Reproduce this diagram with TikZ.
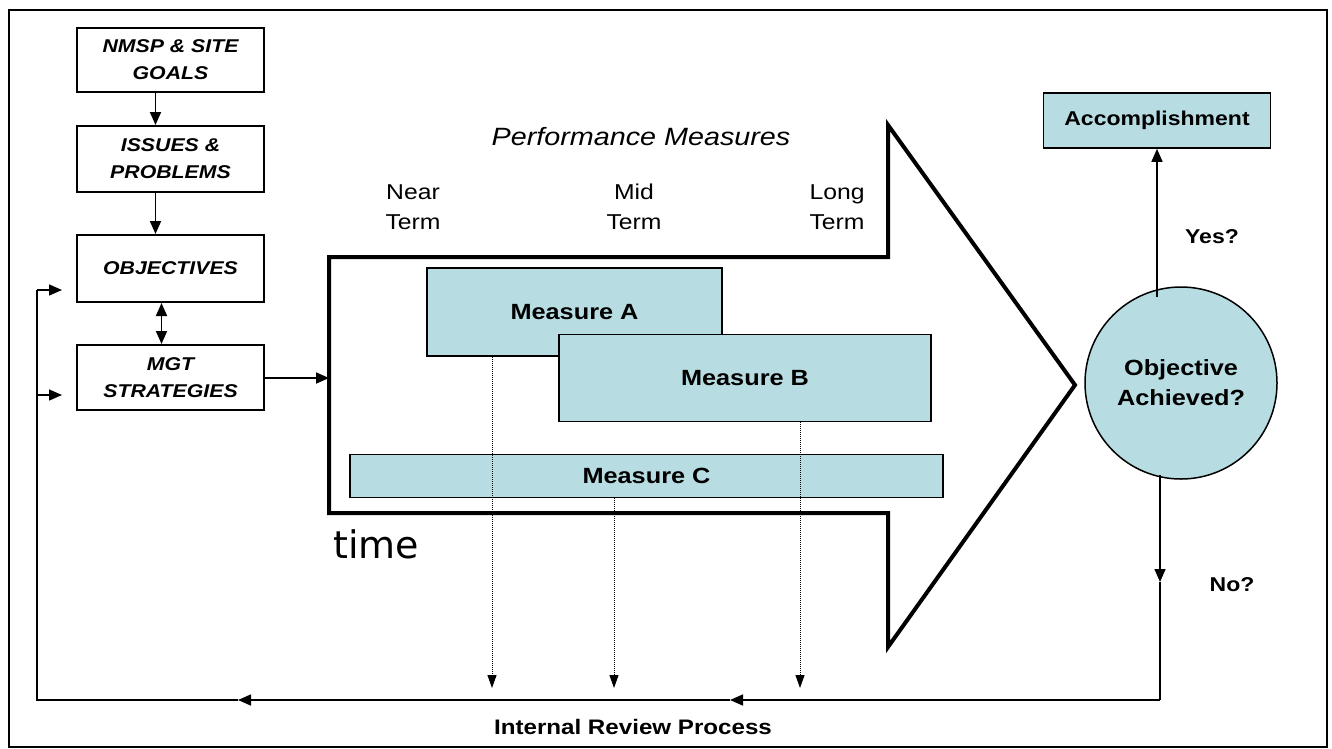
\documentclass[tikz,border=0pt]{standalone}
\usepackage{fontspec}
\setmainfont{Liberation Sans}[FakeStretch=1.15]
\newfontfamily\timefont{DejaVu Sans}
\usetikzlibrary{arrows.meta}
\definecolor{mblue}{RGB}{183,221,227}
\tikzset{
  lbox/.style={draw, line width=2pt, minimum width=187pt, inner sep=0pt, align=center,
    font=\fontsize{18.5pt}{27pt}\selectfont\bfseries\itshape},
  mbox/.style={draw, line width=1.8pt, fill=mblue, inner sep=0pt,
    font=\fontsize{22pt}{26pt}\selectfont\bfseries},
  arr/.style={line width=1.8pt, -{Triangle[length=13pt,width=11pt]}},
  darr/.style={line width=1.8pt, {Triangle[length=13pt,width=11pt]}-{Triangle[length=13pt,width=11pt]}},
  dotarr/.style={line width=1pt, densely dotted, -{Triangle[length=13pt,width=9pt]}},
  term/.style={align=center, font=\fontsize{21.5pt}{30pt}\selectfont},
  lbl/.style={font=\fontsize{20pt}{24pt}\selectfont\bfseries}
}
\begin{document}
\begin{tikzpicture}[x=1pt,y=-1pt]
\useasboundingbox (0,0) rectangle (1332,748);
% frame
\draw[line width=2.6pt] (9,10) rectangle (1327,747);

% left column
\node[lbox, minimum height=64pt] (goals) at (170.5,60) {NMSP \& SITE\\GOALS};
\node[lbox, minimum height=66pt] (issues) at (170.5,159) {ISSUES \&\\PROBLEMS};
\node[lbox, minimum height=67pt] (obj) at (170.5,268.5) {OBJECTIVES};
\node[lbox, minimum height=65pt] (mgt) at (170.5,377.5) {MGT\\STRATEGIES};
\draw[arr] ([xshift=-15pt]goals.south) -- ([xshift=-15pt]issues.north);
\draw[arr] ([xshift=-15pt]issues.south) -- ([xshift=-15pt]obj.north);
\draw[darr] ([xshift=-9pt]obj.south) -- ([xshift=-9pt]mgt.north);

% big arrow
\coordinate (bw) at (329,378);
\draw[line width=4pt, line join=miter] (329,257) -- (888,257) -- (888,125) -- (1075,385)
  -- (888,647) -- (888,513) -- (329,513) -- cycle;
\draw[arr] (mgt.east |- bw) -- (bw);

\node[font=\fontsize{25pt}{30pt}\selectfont\itshape] (pm) at (641,137) {Performance Measures};
\node[term] (near) at (413,207) {Near\\Term};
\node[term] (mid) at (634,207) {Mid\\Term};
\node[term] (long) at (837,207) {Long\\Term};

\node[mbox, minimum width=295pt, minimum height=88pt] (ma) at (574.5,312) {Measure A};
\node[mbox, minimum width=372pt, minimum height=87pt] (mb) at (745,378) {Measure B};
\node[mbox, minimum width=593pt, minimum height=43pt] (mc) at (646.5,476) {Measure C};

\node[anchor=base west, inner sep=0pt, font=\fontsize{38pt}{40pt}\timefont] (time) at (333,558) {time};

% review
\coordinate (r1) at (492,688);
\coordinate (r2) at (614,688);
\coordinate (r3) at (800,688);
\draw[dotarr] (ma.south -| r1) -- (r1);
\draw[dotarr] (mc.south -| r2) -- (r2);
\draw[dotarr] (mb.south -| r3) -- (r3);

% right side
\node[circle, draw, line width=1.5pt, fill=mblue, minimum size=192pt, inner sep=0pt, align=center,
  font=\fontsize{22pt}{30pt}\selectfont\bfseries] (circ) at (1181,383) {Objective\\Achieved?};
\node[mbox, line width=1.6pt, minimum width=227pt, minimum height=55pt, font=\fontsize{20pt}{24pt}\selectfont\bfseries] (acc) at (1157,120.5) {Accomplishment};
\coordinate (up) at (1157,297);
\draw[arr, line width=1.5pt] (up) -- (acc.south);
\node[lbl] (yes) at (1212,237) {Yes?};
\node[lbl] (no) at (1232,585) {No?};

\coordinate (c0) at (1160,475);
\coordinate (c1) at (1160,700);
\coordinate (a1) at (730,700);
\coordinate (a2) at (238,700);
\coordinate (c2) at (37,700);
\coordinate (c3) at (37,290);
\coordinate (c4) at (37,395);
\coordinate (t1) at (62,290);
\coordinate (t2) at (62,395);
\coordinate (dn) at (1160,582);
\draw[arr, line width=1.5pt] (c0) -- (dn);
\draw[line width=1.5pt] (dn) -- (c1);
\draw[arr, line width=1.5pt] (c1) -- (a1);
\draw[arr, line width=1.5pt] (a1) -- (a2);
\draw[line width=1.5pt] (a2) -- (c2) -- (c3);
\draw[arr, line width=1.5pt] (c3) -- (t1);
\draw[arr, line width=1.5pt] (c4) -- (t2);

\node[font=\fontsize{21pt}{24pt}\selectfont\bfseries] (irp) at (633,727) {Internal Review Process};
\end{tikzpicture}
\end{document}
